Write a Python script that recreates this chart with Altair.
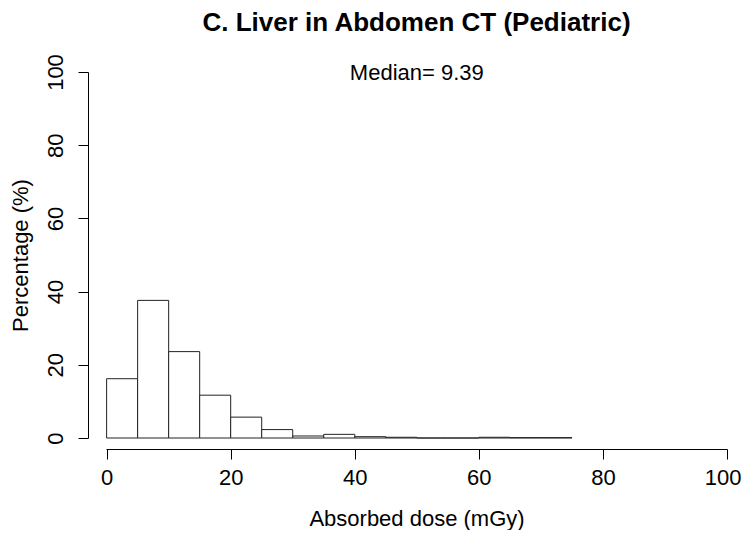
import altair as alt
import pandas as pd

# Histogram bins (mGy) and percentage of cases
bin_start = [0, 5, 10, 15, 20, 25, 30, 35, 40, 45, 50, 55, 60, 65, 70]
bin_end = [5, 10, 15, 20, 25, 30, 35, 40, 45, 50, 55, 60, 65, 70, 75]
percent = [16.2, 37.6, 23.6, 11.7, 5.7, 2.3, 0.55, 1.0, 0.36, 0.2, 0.0, 0.0, 0.2, 0.1, 0.1]

median_value = 9.39
title_text = "C. Liver in Abdomen CT (Pediatric)"
x_title = "Absorbed dose (mGy)"
y_title = "Percentage (%)"
ticks = [0, 20, 40, 60, 80, 100]

FONT = "Liberation Sans"

df = pd.DataFrame({"start": bin_start, "end": bin_end, "pct": percent})
df_med = pd.DataFrame({"x": [50], "y": [100], "label": [f"Median= {median_value}"]})

xscale = alt.Scale(domain=[-0.1, 100], nice=False, zero=False)
yscale = alt.Scale(domain=[0, 100], nice=False)

bars = alt.Chart(df).mark_rect(fill="white", stroke="#222222", strokeWidth=1).encode(
    x=alt.X("start:Q", scale=xscale,
            axis=alt.Axis(title=x_title, values=ticks, offset=11, tickSize=10,
                          labelPadding=8, titlePadding=20, grid=False,
                          domainColor="black", tickColor="black",
                          labelFontSize=22, titleFontSize=22, labelFont=FONT, titleFont=FONT,
                          titleFontWeight="normal", labelColor="black", titleColor="black",
                          labelFlush=0.3, labelFlushOffset=14, labelBound=False)),
    x2="end:Q",
    y=alt.Y("pct:Q", scale=yscale,
            axis=alt.Axis(title=y_title, values=ticks, offset=18, tickSize=10,
                          labelAngle=-90, labelAlign="center", labelBaseline="alphabetic",
                          labelPadding=16, titlePadding=12, grid=False,
                          domainColor="black", tickColor="black",
                          labelFontSize=22, titleFontSize=22, labelFont=FONT, titleFont=FONT,
                          titleFontWeight="normal", labelColor="black", titleColor="black",
                          labelFlush=False)),
    y2=alt.datum(0),
)

med = alt.Chart(df_med).mark_text(font=FONT, fontSize=22, color="black",
                                  align="center", baseline="middle", dy=1).encode(
    x=alt.X("x:Q", scale=xscale),
    y=alt.Y("y:Q", scale=yscale),
    text="label:N",
)

chart = alt.layer(bars, med).properties(
    width=621,
    height=366,
    title=alt.TitleParams(title_text, font=FONT, fontSize=26, fontWeight="bold",
                          anchor="middle", color="black", offset=18),
    autosize=alt.AutoSizeParams(type="none"),
    padding={"left": 98, "top": 64, "right": 14, "bottom": 92},
).configure(background="white").configure_view(strokeWidth=0, stroke="transparent")

chart.save("out.html", embed_options={"renderer": "svg", "actions": False})
